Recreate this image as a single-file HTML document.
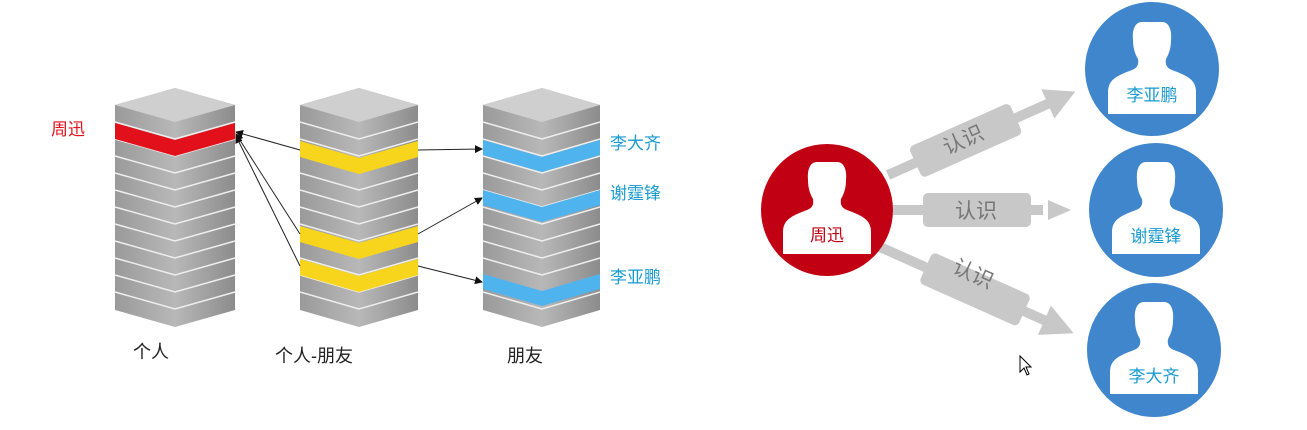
<!DOCTYPE html>
<html><head><meta charset="utf-8"><style>
body{margin:0;background:#fff;}
svg{display:block}
text{font-family:"Liberation Sans","Noto Sans CJK SC",sans-serif}
</style></head><body>
<svg width="1307" height="430" viewBox="0 0 1307 430" xmlns="http://www.w3.org/2000/svg">
<defs>
<linearGradient id="g" x1="0" x2="1"><stop offset="0" stop-color="#9a9a9a"/><stop offset="0.5" stop-color="#b8b8b8"/><stop offset="1" stop-color="#8c8c8c"/></linearGradient>
<marker id="ah" markerWidth="8" markerHeight="8" refX="7" refY="4" orient="auto"><path d="M0,0 L8,4 L0,8 z" fill="#111"/></marker>
<g id="person"><path d="M-10,-50 C-17,-50 -20,-42 -19,-32 C-19,-24 -17,-18 -14,-13 C-13,-7 -15,-4 -20,-2 C-36,4 -44,8 -44,20 L-44,42 L44,42 L44,20 C44,8 36,4 20,-2 C15,-4 13,-7 14,-13 C17,-18 19,-24 19,-32 C20,-42 17,-50 10,-50 Z" fill="#fff"/></g>
</defs>
<g>
<!-- column 1 -->
<polygon points="115,105 175,88 235,105 235,310 175,327 115,310" fill="url(#g)"/>
<polygon points="115,105 175,88 235,105 175,122" fill="#cfcfcf"/>
<g stroke="#eee" stroke-width="1.5" fill="none">
<polyline points="115,122 175,139 235,122"/><polyline points="115,139 175,156 235,139"/><polyline points="115,156 175,173 235,156"/><polyline points="115,173 175,190 235,173"/><polyline points="115,190 175,207 235,190"/><polyline points="115,207 175,224 235,207"/><polyline points="115,224 175,241 235,224"/><polyline points="115,241 175,258 235,241"/><polyline points="115,258 175,275 235,258"/><polyline points="115,275 175,292 235,275"/><polyline points="115,292 175,309 235,292"/>
</g>
<polygon points="115,123 175,140 235,123 235,139 175,156 115,139" fill="#e2101a"/>
<!-- column 2 -->
<polygon points="300,105 359,88 418,105 418,310 359,327 300,310" fill="url(#g)"/>
<polygon points="300,105 359,88 418,105 359,122" fill="#cfcfcf"/>
<g stroke="#eee" stroke-width="1.5" fill="none">
<polyline points="300,122 359,139 418,122"/><polyline points="300,139 359,156 418,139"/><polyline points="300,156 359,173 418,156"/><polyline points="300,173 359,190 418,173"/><polyline points="300,190 359,207 418,190"/><polyline points="300,207 359,224 418,207"/><polyline points="300,224 359,241 418,224"/><polyline points="300,241 359,258 418,241"/><polyline points="300,258 359,275 418,258"/><polyline points="300,275 359,292 418,275"/><polyline points="300,292 359,309 418,292"/>
</g>
<polygon points="300,141 359,158 418,141 418,157 359,174 300,157" fill="#f7d51c"/>
<polygon points="300,226 359,243 418,226 418,242 359,259 300,242" fill="#f7d51c"/>
<polygon points="300,259 359,276 418,259 418,275 359,292 300,275" fill="#f7d51c"/>
<!-- column 3 -->
<polygon points="483,105 542,88 600,105 600,310 542,327 483,310" fill="url(#g)"/>
<polygon points="483,105 542,88 600,105 542,122" fill="#cfcfcf"/>
<g stroke="#eee" stroke-width="1.5" fill="none">
<polyline points="483,122 542,139 600,122"/><polyline points="483,139 542,156 600,139"/><polyline points="483,156 542,173 600,156"/><polyline points="483,173 542,190 600,173"/><polyline points="483,190 542,207 600,190"/><polyline points="483,207 542,224 600,207"/><polyline points="483,224 542,241 600,224"/><polyline points="483,241 542,258 600,241"/><polyline points="483,258 542,275 600,258"/><polyline points="483,275 542,292 600,275"/><polyline points="483,292 542,309 600,292"/>
</g>
<polygon points="483,140 542,157 600,140 600,155 542,172 483,155" fill="#4fb3ee"/>
<polygon points="483,190 542,207 600,190 600,205 542,222 483,205" fill="#4fb3ee"/>
<polygon points="483,274 542,291 600,274 600,289 542,306 483,289" fill="#4fb3ee"/>
</g>
<g stroke="#222" stroke-width="1" fill="none" marker-end="url(#ah)">
<line x1="300" y1="150" x2="236" y2="132"/>
<line x1="300" y1="234" x2="236" y2="134"/>
<line x1="300" y1="266" x2="236" y2="136"/>
<line x1="418" y1="150" x2="482" y2="149"/>
<line x1="418" y1="234" x2="482" y2="198"/>
<line x1="418" y1="266" x2="482" y2="282"/>
</g>
<text x="51" y="135" font-size="17" fill="#e0101a">周迅</text>
<text x="610" y="149" font-size="17" fill="#1a9bd0">李大齐</text>
<text x="610" y="199" font-size="17" fill="#1a9bd0">谢霆锋</text>
<text x="610" y="283" font-size="17" fill="#1a9bd0">李亚鹏</text>
<text x="133" y="358" font-size="18" fill="#222">个人</text>
<text x="275" y="362" font-size="18" fill="#222">个人-朋友</text>
<text x="507" y="362" font-size="18" fill="#222">朋友</text>
<g fill="#c8c8c8">
<g transform="translate(888,175) rotate(-24)"><rect x="0" y="-5" width="180" height="10"/><rect x="30" y="-17" width="110" height="34" rx="5"/><polygon points="175,-16 205,0 175,16"/></g>
<g transform="translate(893,210)"><rect x="0" y="-5" width="150" height="10"/><rect x="30" y="-17" width="108" height="34" rx="5"/><polygon points="155,-10 178,0 155,10"/></g>
<g transform="translate(880,247) rotate(24)"><rect x="0" y="-5" width="190" height="10"/><rect x="50" y="-17" width="108" height="34" rx="5"/><polygon points="180,-16 212,0 180,16"/></g>
</g>
<text font-size="21" fill="#777" transform="translate(947,155) rotate(-24)">认识</text>
<text x="955" y="218" font-size="21" fill="#777">认识</text>
<text font-size="21" fill="#777" transform="translate(951,272) rotate(24)">认识</text>
<circle cx="827" cy="210" r="66" fill="#c10013"/>
<g transform="translate(827,212)"><use href="#person"/></g>
<text x="827" y="241" font-size="17" fill="#c10013" text-anchor="middle">周迅</text>
<circle cx="1152" cy="69" r="67" fill="#3f86cc"/>
<g transform="translate(1152,72)"><use href="#person"/></g>
<text x="1152" y="101" font-size="17" fill="#1a9bd0" text-anchor="middle">李亚鹏</text>
<circle cx="1156" cy="210" r="67" fill="#3f86cc"/>
<g transform="translate(1156,212)"><use href="#person"/></g>
<text x="1156" y="242" font-size="17" fill="#1a9bd0" text-anchor="middle">谢霆锋</text>
<circle cx="1154" cy="350" r="67" fill="#3f86cc"/>
<g transform="translate(1154,352)"><use href="#person"/></g>
<text x="1154" y="382" font-size="17" fill="#1a9bd0" text-anchor="middle">李大齐</text>
<path d="M1020,356 L1020,372 L1024,368 L1027,375 L1029,374 L1026,367 L1031,367 Z" fill="#fff" stroke="#000" stroke-width="1"/>
</svg>
</body></html>
